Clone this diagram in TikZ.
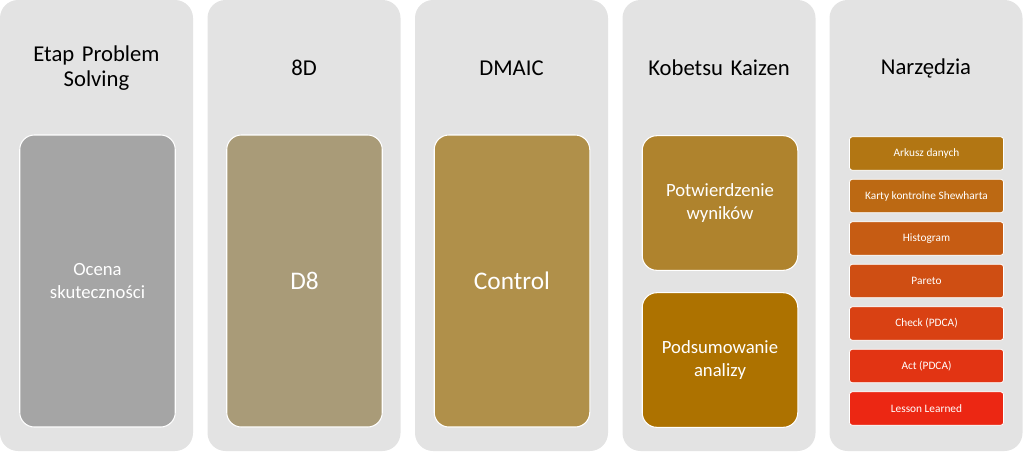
\documentclass[tikz,border=0pt]{standalone}
\usepackage{fontspec}
\setmainfont{Carlito}
\tikzset{
    colbg/.style={draw=none,fill=black!11,rounded corners=13.5pt,minimum width=144.75pt,minimum height=338.25pt},
    coltitle/.style={align=center,text width=140pt,text=black,font=\fontsize{17}{19}\selectfont},
    stepbox/.style={draw=white,line width=.8pt,rounded corners=11pt,minimum width=115.5pt,align=center,text width=110pt,text=white},
    toolbox/.style={draw=white,line width=.6pt,rounded corners=2pt,minimum width=115.5pt,minimum height=25pt,text=white,font=\fontsize{8.5}{10}\selectfont,inner sep=1pt}
}
\definecolor{grey1}{HTML}{A5A5A5}
\definecolor{khaki}{HTML}{A99B78}
\definecolor{ochre}{HTML}{B0904A}
\definecolor{ochre2}{HTML}{AF832D}
\definecolor{amber}{HTML}{AD7200}
\begin{document}
\begin{tikzpicture}[x=0.75pt,y=-0.75pt]
        \useasboundingbox (0,0) rectangle (1024,451);
        % columns
        \foreach \cx/\name in {96.5/c1,304/c2,511.5/c3,719/c4,926/c5}{
            \node[colbg] (\name) at (\cx,225.5) {};
        }
        \node[coltitle] (t1) at (96.5,68) {Etap Problem\\Solving};
        \node[coltitle] (t2) at (304,68) {8D};
        \node[coltitle] (t3) at (511.5,68) {DMAIC};
        \node[coltitle] (t4) at (719,68) {Kobetsu Kaizen};
        \node[coltitle] (t5) at (926,68) {Narzędzia};

        % steps
        \node[stepbox,fill=grey1,minimum height=219pt,font=\fontsize{14}{17}\selectfont] (s1) at (97.5,281) {Ocena\\skuteczności};
        \node[stepbox,fill=khaki,minimum height=219pt,font=\fontsize{19}{22}\selectfont] (s2) at (304.5,281) {D8};
        \node[stepbox,fill=ochre,minimum height=219pt,font=\fontsize{19}{22}\selectfont] (s3) at (512,281) {Control};
        \node[stepbox,fill=ochre2,minimum height=101pt,font=\fontsize{14}{17}\selectfont] (s4a) at (720,203) {Potwierdzenie\\wyników};
        \node[stepbox,fill=amber,minimum height=101pt,font=\fontsize{14}{17}\selectfont] (s4b) at (720,360) {Podsumowanie\\analizy};

        % tools
        \foreach \i/\txt [evaluate=\i as \pct using 100-\i*16.6] in {0/Arkusz danych,1/Karty kontrolne Shewharta,2/Histogram,3/Pareto,4/Check (PDCA),5/Act (PDCA),6/Lesson Learned}{
            \node[toolbox,fill=amber!\pct!red!70!brown] (tool\i) at (926.5,153.5+42.5*\i) {\txt};
        }
\end{tikzpicture}
\end{document}
